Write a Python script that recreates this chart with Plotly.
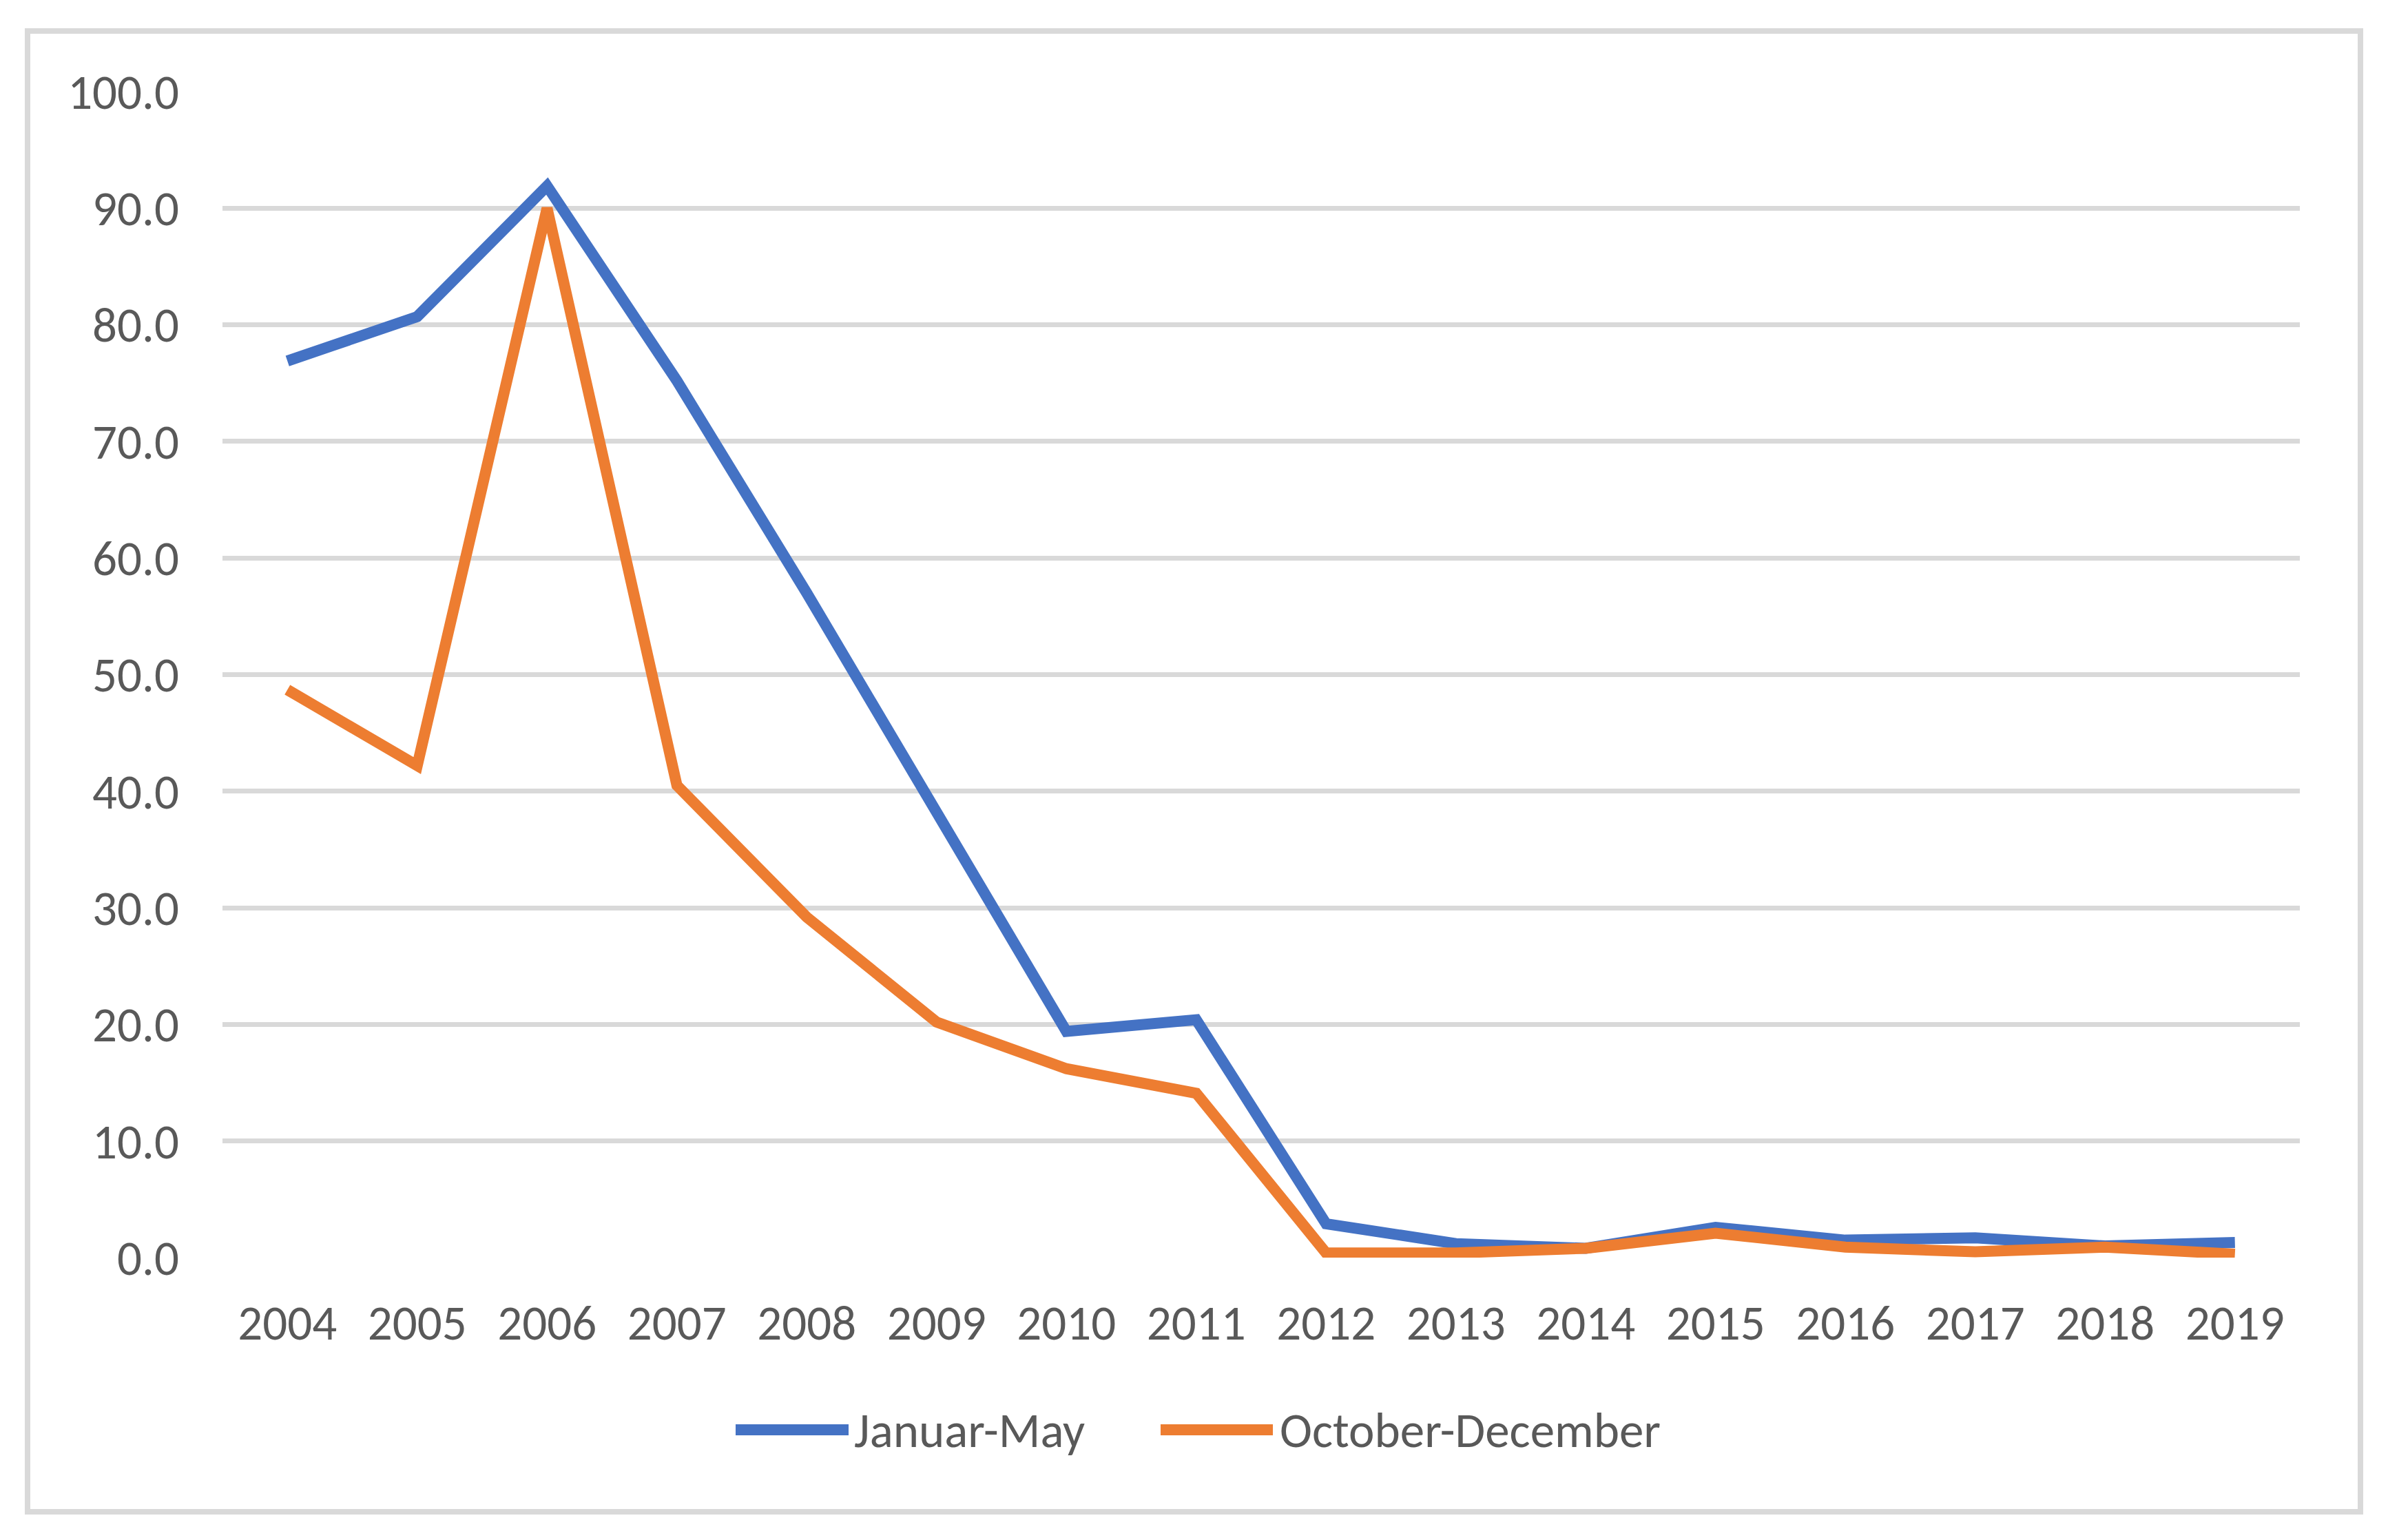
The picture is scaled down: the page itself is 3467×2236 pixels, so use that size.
import plotly.graph_objects as go

years = [str(y) for y in range(2004, 2020)]
jan_may = [76.9, 80.7, 91.9, 75.2, 57.0, 38.0, 19.4, 20.4, 2.9, 1.2, 0.8, 2.6, 1.5, 1.7, 1.0, 1.3]
oct_dec = [48.7, 42.2, 90.0, 40.5, 29.2, 20.2, 16.2, 14.1, 0.4, 0.4, 0.8, 2.1, 0.9, 0.5, 0.9, 0.3]
series_names = ["Januar-May", "October-December"]
series_colors = ["#4472C4", "#ED7D31"]
y_ticks = [0, 10, 20, 30, 40, 50, 60, 70, 80, 90, 100]

OFF = 8  # default page body margin
W, H = 3467 - OFF, 2236 - OFF
# plot area in page pixel coordinates
PL, PR, PT, PB = 323, 3339, 133, 1826
L = PL - OFF
R = W - (PR - OFF)
T = PT - OFF
B = H - (PB - OFF)
FONT = "Carlito, Calibri, Lato, sans-serif"
FS = 71
TXT = "#595959"
GRID = "#D9D9D9"

fig = go.Figure()
for name, vals, col in zip(series_names, [jan_may, oct_dec], series_colors):
    fig.add_trace(go.Scatter(
        x=years, y=vals, name=name, mode="lines",
        line=dict(color=col, width=16),
        cliponaxis=False, showlegend=False,
    ))

pw = PR - PL
ph = PB - PT
def px_x(p):
    return (p - PL) / pw
def px_y(p):
    return (PB - p) / ph

shapes = []
annotations = []
# outer chart border
shapes.append(dict(type="rect", xref="paper", yref="paper",
                   x0=px_x(40), x1=px_x(3427), y0=px_y(2195), y1=px_y(45),
                   line=dict(color=GRID, width=8), fillcolor="rgba(0,0,0,0)", layer="below"))
# custom legend
leg_y = px_y(2076)
leg_items = [(1068, 1232, 1238), (1685, 1848, 1856)]
for (sx0, sx1, tx), name, col in zip(leg_items, series_names, series_colors):
    shapes.append(dict(type="line", xref="paper", yref="paper",
                       x0=px_x(sx0), x1=px_x(sx1), y0=leg_y, y1=leg_y,
                       line=dict(color=col, width=16)))
    annotations.append(dict(xref="paper", yref="paper", x=px_x(tx), y=leg_y,
                            text=name, showarrow=False, xanchor="left", yanchor="middle",
                            font=dict(family=FONT, size=FS, color=TXT)))

fig.update_layout(
    width=W, height=H,
    margin=dict(l=L, r=R, t=T, b=B, pad=0),
    paper_bgcolor="white", plot_bgcolor="white",
    font=dict(family=FONT, size=FS, color=TXT),
    shapes=shapes, annotations=annotations,
    showlegend=False,
)
fig.update_xaxes(
    type="category", range=[-0.5, len(years) - 0.5],
    showgrid=False, zeroline=False, showline=False, ticks="",
    tickfont=dict(family=FONT, size=FS, color=TXT),
    ticklabelstandoff=47,
)
fig.update_yaxes(
    range=[0, 100], tickvals=y_ticks, ticktext=[f"{v:.1f}" for v in y_ticks],
    showgrid=True, gridcolor=GRID, gridwidth=7,
    zeroline=False, showline=False, ticks="",
    tickfont=dict(family=FONT, size=FS, color=TXT),
    ticklabelstandoff=62,
)

fig.write_html("out.html")
